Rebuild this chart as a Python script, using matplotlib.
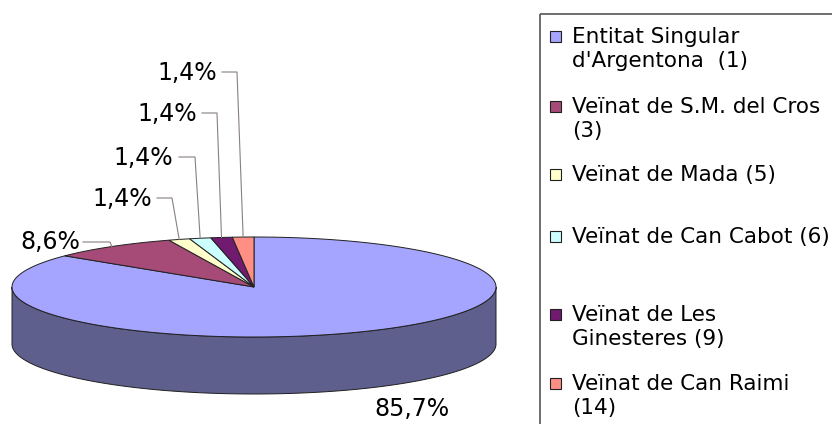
import numpy as np
import matplotlib.pyplot as plt
from matplotlib.patches import Polygon, Rectangle

# data
names = ["Entitat Singular\nd'Argentona  (1)",
         "Veïnat de S.M. del Cros\n(3)",
         "Veïnat de Mada (5)",
         "Veïnat de Can Cabot (6)",
         "Veïnat de Les\nGinesteres (9)",
         "Veïnat de Can Raimi\n(14)"]
counts = [60, 6, 1, 1, 1, 1]

top_colors = ['#a5a5ff', '#a64b78', '#ffffcc', '#ccffff', '#701a70', '#ff8f85']
side_color = '#5f5f8e'
edge = '#202020'

# pie geometry in pixels (axes uses pixel coordinates, y down)
cx, cy, a, b, depth = 254, 287, 242, 50, 57

# percent label positions: (x of text right/centre, baseline y, ha, leader pts)
label_pos = [
    (412, 416, 'center', None),
    (80, 249, 'right', [(83, 242), (110, 242)]),
    (152, 206, 'right', [(157, 198), (172, 198)]),
    (173, 165, 'right', [(179, 157), (195, 157)]),
    (197, 121, 'right', [(202, 113), (217, 113)]),
    (217, 80, 'right', [(222, 72), (237, 72)]),
]
legend_rows = [35, 105, 173, 235, 313, 382]


def ell(theta_deg, dy=0.0):
    t = np.radians(theta_deg)
    return np.column_stack([cx + a * np.cos(t), cy - b * np.sin(t) + dy])


fig = plt.figure(figsize=(8.32, 4.24), dpi=100)
ax = fig.add_axes([0, 0, 1, 1])
ax.set_xlim(0, 832)
ax.set_ylim(424, 0)
ax.axis('off')

# side wall (only the front half shows, all of it the big slice)
th = np.linspace(180, 360, 200)
side = np.vstack([ell(th), ell(th[::-1], depth)])
ax.add_patch(Polygon(side, closed=True, facecolor=side_color,
                     edgecolor=edge, lw=0.7))

# top faces, clockwise from 12 o'clock
total = float(sum(counts))
start = 90.0
mids = []
for val, col in zip(counts, top_colors):
    span = 360.0 * val / total
    th = np.linspace(start, start - span, max(int(span * 2), 4))
    pts = np.vstack([[cx, cy], ell(th)])
    ax.add_patch(Polygon(pts, closed=True, facecolor=col,
                         edgecolor=edge, lw=0.7))
    mids.append(start - span / 2)
    start -= span

# percentage labels with leader lines
for val, mid, (lx, ly, ha, lead) in zip(counts, mids, label_pos):
    pct = '{:.1f}%'.format(100 * val / total).replace('.', ',')
    ax.text(lx, ly, pct, ha=ha, va='baseline', fontsize=17,
            color='black')
    if lead is not None:
        end = ell(mid)[0]
        xs = [p[0] for p in lead] + [end[0]]
        ys = [p[1] for p in lead] + [end[1]]
        ax.plot(xs, ys, color='#8a8080', lw=0.8)

# legend box
ax.add_patch(Rectangle((540, 14), 320, 430, facecolor='none',
                       edgecolor='#555555', lw=1.2, clip_on=False))
for name, col, ry in zip(names, top_colors, legend_rows):
    ax.add_patch(Rectangle((550, ry - 4), 11, 11, facecolor=col,
                           edgecolor=edge, lw=0.8))
    for i, line in enumerate(name.split('\n')):
        ax.text(572, ry + 8 + i * 24, line, ha='left', va='baseline',
                fontsize=15.5, color='black')

fig.savefig('out.png', dpi=100)
